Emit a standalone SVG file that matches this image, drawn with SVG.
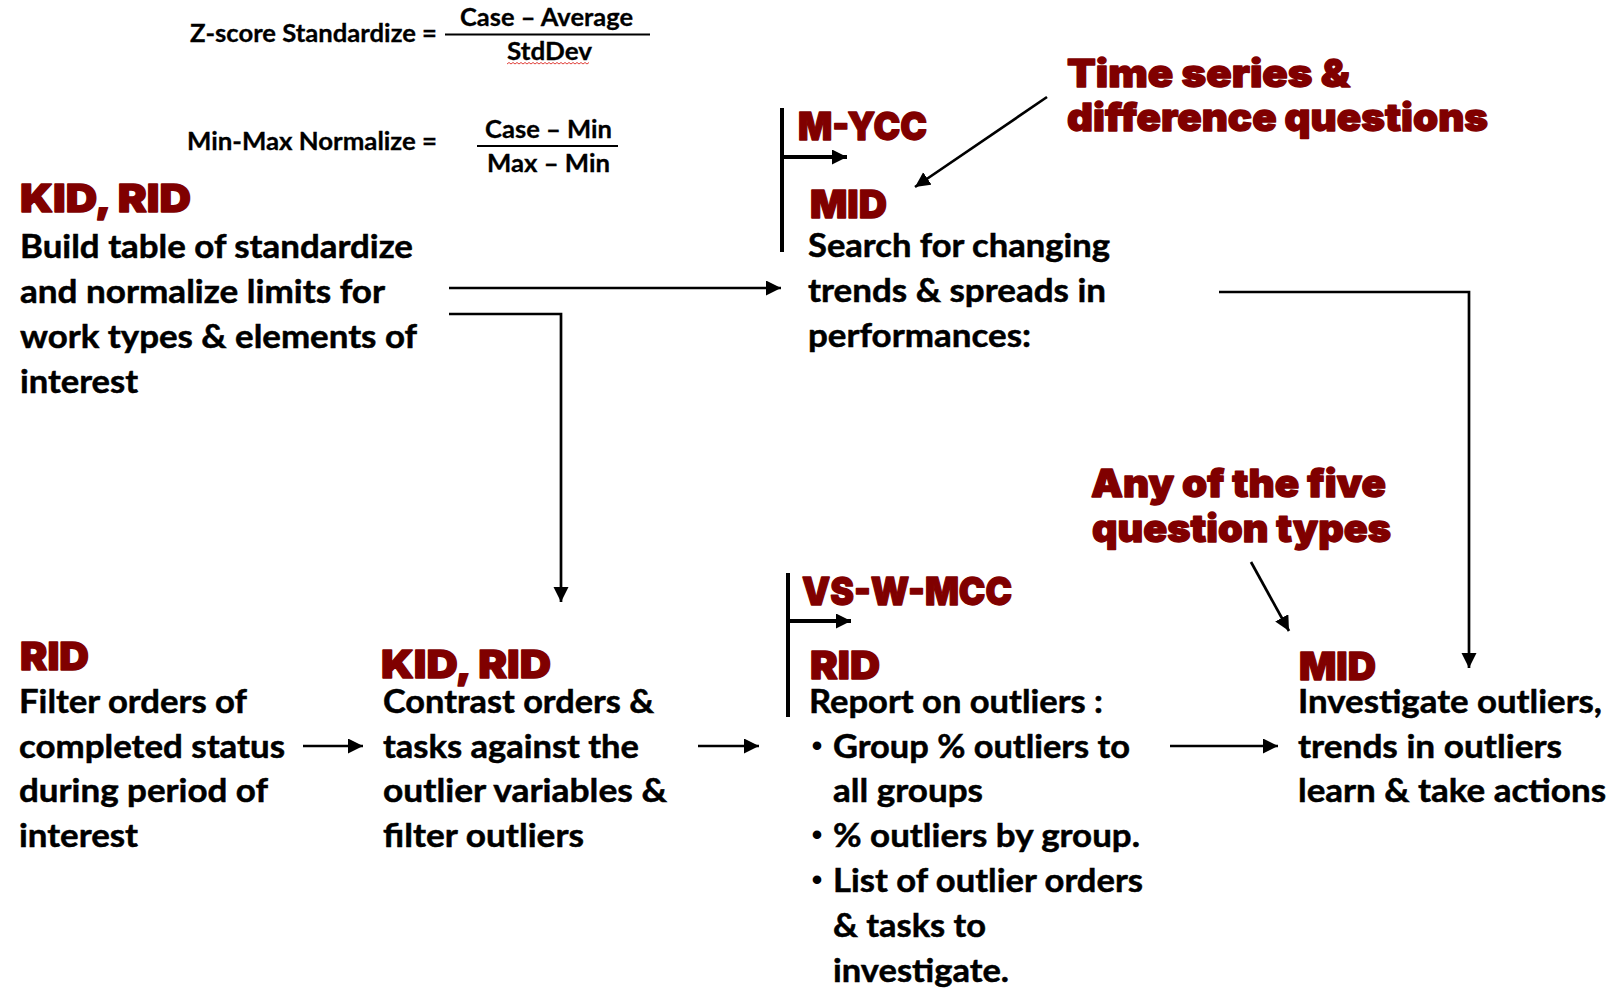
<svg xmlns="http://www.w3.org/2000/svg" width="1612" height="988" viewBox="0 0 1612 988">
  <style>
    .body { font-family: "Lato", "Noto Sans", "Liberation Sans", sans-serif; font-weight: 700; font-size: 33px; fill: #000; stroke: #000; stroke-width: 0.5; }
    .bullet { font-family: "Liberation Sans", sans-serif; font-weight: 700; font-size: 30px; fill: #000; text-anchor: middle; }
    .head { font-family: "Inter", "Roboto", "Liberation Sans", sans-serif; font-weight: 900; font-size: 38px; fill: #800000; stroke: #800000; stroke-width: 1.3; stroke-linejoin: round; }
    .formula { font-family: "Lato", "Noto Sans", "Liberation Sans", sans-serif; font-weight: 700; font-size: 24px; fill: #000; stroke: #000; stroke-width: 0.3; }
    .conn { fill: none; stroke: #000; stroke-width: 2.7; }
    .bracket { fill: none; stroke: #000; stroke-width: 4; }
    .rule { stroke: #000; stroke-width: 2; }
  </style>
  <defs>
    <marker id="arrow" markerUnits="userSpaceOnUse" markerWidth="16" markerHeight="16" refX="15" refY="7.5" orient="auto">
      <path d="M0,0 L15,7.5 L0,15 z" fill="#000"/>
    </marker>
  </defs>
  <rect width="1612" height="988" fill="#fff"/>

  <!-- formulas -->
  <g id="formula-zscore">
    <text class="formula" x="190" y="42" textLength="247" lengthAdjust="spacingAndGlyphs">Z-score Standardize =</text>
    <text class="formula" x="460" y="26" textLength="173" lengthAdjust="spacingAndGlyphs">Case – Average</text>
    <line class="rule" x1="445" y1="34.5" x2="650" y2="34.5"/>
    <text class="formula" x="507" y="60" textLength="85" lengthAdjust="spacingAndGlyphs">StdDev</text>
    <path d="M507,64 l2,-1.5 l2,1.5 l2,-1.5 l2,1.5 l2,-1.5 l2,1.5 l2,-1.5 l2,1.5 l2,-1.5 l2,1.5 l2,-1.5 l2,1.5 l2,-1.5 l2,1.5 l2,-1.5 l2,1.5 l2,-1.5 l2,1.5 l2,-1.5 l2,1.5 l2,-1.5 l2,1.5 l2,-1.5 l2,1.5 l2,-1.5 l2,1.5 l2,-1.5 l2,1.5 l2,-1.5 l2,1.5 l2,-1.5 l2,1.5 l2,-1.5 l2,1.5 l2,-1.5 l2,1.5 l2,-1.5 l2,1.5 l2,-1.5 l2,1.5 l2,-1.5" fill="none" stroke="#e0403a" stroke-width="1"/>
  </g>
  <g id="formula-minmax">
    <text class="formula" x="187" y="150" textLength="250" lengthAdjust="spacingAndGlyphs">Min-Max Normalize =</text>
    <text class="formula" x="485" y="138" textLength="127" lengthAdjust="spacingAndGlyphs">Case – Min</text>
    <line class="rule" x1="477" y1="146" x2="618" y2="146"/>
    <text class="formula" x="487" y="172" textLength="123" lengthAdjust="spacingAndGlyphs">Max – Min</text>
  </g>

  <!-- step: build table -->
  <g id="node-build-table">
    <text class="head" x="20" y="212" textLength="171" lengthAdjust="spacingAndGlyphs">KID, RID</text>
    <text class="body" x="20" y="258" textLength="393" lengthAdjust="spacingAndGlyphs">Build table of standardize</text>
    <text class="body" x="20" y="303" textLength="365" lengthAdjust="spacingAndGlyphs">and normalize limits for</text>
    <text class="body" x="20" y="348" textLength="397" lengthAdjust="spacingAndGlyphs">work types &amp; elements of</text>
    <text class="body" x="20" y="393" textLength="118" lengthAdjust="spacingAndGlyphs">interest</text>
  </g>

  <!-- step: search trends -->
  <g id="node-search-trends">
    <line class="bracket" x1="782" y1="108" x2="782" y2="252"/>
    <path class="bracket" d="M782,157 H847" marker-end="url(#arrow)"/>
    <text class="head" x="798" y="140" textLength="129" lengthAdjust="spacingAndGlyphs">M-YCC</text>
    <text class="head" x="810" y="218" textLength="77" lengthAdjust="spacingAndGlyphs">MID</text>
    <text class="body" x="808" y="257" textLength="302" lengthAdjust="spacingAndGlyphs">Search for changing</text>
    <text class="body" x="808" y="302" textLength="298" lengthAdjust="spacingAndGlyphs">trends &amp; spreads in</text>
    <text class="body" x="808" y="347" textLength="223" lengthAdjust="spacingAndGlyphs">performances:</text>
  </g>

  <g id="note-time-series">
    <text class="head" x="1067" y="87" textLength="283" lengthAdjust="spacingAndGlyphs">Time series &amp;</text>
    <text class="head" x="1067" y="131" textLength="421" lengthAdjust="spacingAndGlyphs">difference questions</text>
  </g>

  <!-- step: filter orders -->
  <g id="node-filter-orders">
    <text class="head" x="20" y="670" textLength="69" lengthAdjust="spacingAndGlyphs">RID</text>
    <text class="body" x="19" y="713" textLength="228" lengthAdjust="spacingAndGlyphs">Filter orders of</text>
    <text class="body" x="19" y="758" textLength="266" lengthAdjust="spacingAndGlyphs">completed status</text>
    <text class="body" x="19" y="802" textLength="249" lengthAdjust="spacingAndGlyphs">during period of</text>
    <text class="body" x="19" y="847" textLength="119" lengthAdjust="spacingAndGlyphs">interest</text>
  </g>

  <!-- step: contrast orders -->
  <g id="node-contrast-orders">
    <text class="head" x="381" y="678" textLength="170" lengthAdjust="spacingAndGlyphs">KID, RID</text>
    <text class="body" x="383" y="713" textLength="271" lengthAdjust="spacingAndGlyphs">Contrast orders &amp;</text>
    <text class="body" x="383" y="758" textLength="256" lengthAdjust="spacingAndGlyphs">tasks against the</text>
    <text class="body" x="383" y="802" textLength="284" lengthAdjust="spacingAndGlyphs">outlier variables &amp;</text>
    <text class="body" x="383" y="847" textLength="201" lengthAdjust="spacingAndGlyphs">filter outliers</text>
  </g>

  <!-- step: report on outliers -->
  <g id="node-report-outliers">
    <line class="bracket" x1="788" y1="573" x2="788" y2="717"/>
    <path class="bracket" d="M788,621 H851" marker-end="url(#arrow)"/>
    <text class="head" x="802" y="605" textLength="210" lengthAdjust="spacingAndGlyphs">VS-W-MCC</text>
    <text class="head" x="810" y="679" textLength="70" lengthAdjust="spacingAndGlyphs">RID</text>
    <text class="body" x="809" y="713" textLength="294" lengthAdjust="spacingAndGlyphs">Report on outliers :</text>
    <text class="bullet" x="817" y="756">•</text>
    <text class="body" x="833" y="758" textLength="297" lengthAdjust="spacingAndGlyphs">Group % outliers to</text>
    <text class="body" x="833" y="802" textLength="150" lengthAdjust="spacingAndGlyphs">all groups</text>
    <text class="bullet" x="817" y="845">•</text>
    <text class="body" x="833" y="847" textLength="307" lengthAdjust="spacingAndGlyphs">% outliers by group.</text>
    <text class="bullet" x="817" y="890">•</text>
    <text class="body" x="833" y="892" textLength="310" lengthAdjust="spacingAndGlyphs">List of outlier orders</text>
    <text class="body" x="833" y="937" textLength="153" lengthAdjust="spacingAndGlyphs">&amp; tasks to</text>
    <text class="body" x="833" y="982" textLength="176" lengthAdjust="spacingAndGlyphs">investigate.</text>
  </g>

  <!-- step: investigate -->
  <g id="node-investigate">
    <text class="head" x="1299" y="680" textLength="77" lengthAdjust="spacingAndGlyphs">MID</text>
    <text class="body" x="1298" y="713" textLength="304" lengthAdjust="spacingAndGlyphs">Investigate outliers,</text>
    <text class="body" x="1298" y="758" textLength="264" lengthAdjust="spacingAndGlyphs">trends in outliers</text>
    <text class="body" x="1298" y="802" textLength="308" lengthAdjust="spacingAndGlyphs">learn &amp; take actions</text>
  </g>

  <g id="note-five-types">
    <text class="head" x="1091" y="497" textLength="295" lengthAdjust="spacingAndGlyphs">Any of the five</text>
    <text class="head" x="1092" y="542" textLength="299" lengthAdjust="spacingAndGlyphs">question types</text>
  </g>

  <!-- connectors -->
  <g id="connectors">
    <path class="conn" d="M449,288 H781" marker-end="url(#arrow)"/>
    <path class="conn" d="M449,314 H561 V602" marker-end="url(#arrow)"/>
    <path class="conn" d="M1219,292 H1469 V668" marker-end="url(#arrow)"/>
    <path class="conn" d="M303,746 H363" marker-end="url(#arrow)"/>
    <path class="conn" d="M698,746 H759" marker-end="url(#arrow)"/>
    <path class="conn" d="M1170,746 H1278" marker-end="url(#arrow)"/>
    <path class="conn" d="M1047,97 L915,187" marker-end="url(#arrow)"/>
    <path class="conn" d="M1251,562 L1289,631" marker-end="url(#arrow)"/>
  </g>
</svg>
